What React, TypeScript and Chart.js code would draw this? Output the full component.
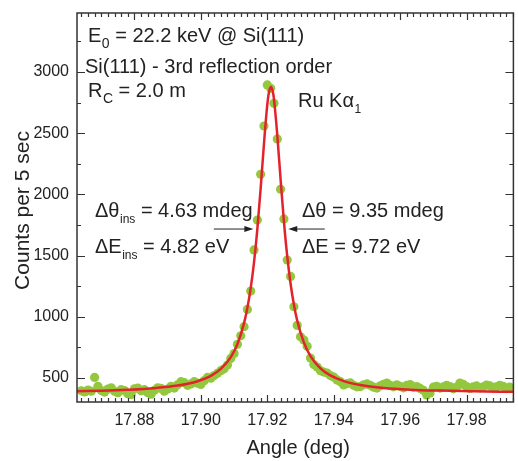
import React, { useEffect, useRef } from 'react';
import { Chart, registerables } from 'chart.js';

Chart.register(...registerables);

// Measured data (angle in deg, counts per 5 sec)
const angles = [
  17.864, 17.865, 17.866, 17.867, 17.868, 17.869, 17.870, 17.871, 17.872, 17.873,
  17.874, 17.875, 17.876, 17.877, 17.878, 17.879, 17.880, 17.881, 17.882, 17.883,
  17.884, 17.885, 17.886, 17.887, 17.888, 17.889, 17.890, 17.891, 17.892, 17.893,
  17.894, 17.895, 17.896, 17.897, 17.898, 17.899, 17.900, 17.901, 17.902, 17.903,
  17.904, 17.905, 17.906, 17.907, 17.908, 17.909, 17.910, 17.911, 17.912, 17.913,
  17.914, 17.915, 17.916, 17.917, 17.918, 17.919, 17.920, 17.921, 17.922, 17.923,
  17.924, 17.925, 17.926, 17.927, 17.928, 17.929, 17.930, 17.931, 17.932, 17.933,
  17.934, 17.935, 17.936, 17.937, 17.938, 17.939, 17.940, 17.941, 17.942, 17.943,
  17.944, 17.945, 17.946, 17.947, 17.948, 17.949, 17.950, 17.951, 17.952, 17.953,
  17.954, 17.955, 17.956, 17.957, 17.958, 17.959, 17.960, 17.961, 17.962, 17.963,
  17.964, 17.965, 17.966, 17.967, 17.968, 17.969, 17.970, 17.971, 17.972, 17.973,
  17.974, 17.975, 17.976, 17.977, 17.978, 17.979, 17.980, 17.981, 17.982, 17.983,
  17.984, 17.985, 17.986, 17.987, 17.988, 17.989, 17.990, 17.991, 17.992, 17.993,
];
const counts = [
  395, 386, 402, 392, 505, 432, 398, 385, 410, 420,
  392, 380, 405, 398, 372, 365, 412, 418, 395, 405,
  380, 368, 400, 420, 415, 392, 410, 432, 418, 445,
  470, 462, 440, 452, 470, 458, 448, 478, 505, 498,
  520, 538, 560, 575, 606, 660, 700, 775, 845, 919,
  1060, 1210, 1546, 1790, 2164, 2559, 2894, 2867, 2744, 2453,
  2042, 1800, 1464, 1330, 1082, 930, 837, 810, 760, 663,
  610, 590, 560, 549, 541, 520, 508, 484, 470, 443,
  455, 460, 440, 428, 430, 445, 452, 440, 425, 418,
  436, 448, 459, 440, 428, 445, 432, 420, 440, 447,
  425, 430, 415, 400, 362, 378, 425, 432, 418, 427,
  440, 430, 412, 425, 459, 448, 430, 415, 427, 435,
  420, 428, 443, 436, 420, 427, 440, 432, 418, 425,
];

// Fitted curve
const fitAngles = [
  17.8627, 17.870, 17.878, 17.886, 17.893, 17.899, 17.903, 17.906, 17.909, 17.911,
  17.913, 17.914, 17.915, 17.916, 17.917, 17.918, 17.919, 17.920, 17.9205, 17.9211,
  17.9217, 17.922, 17.923, 17.924, 17.925, 17.926, 17.927, 17.928, 17.929, 17.931,
  17.933, 17.936, 17.939, 17.943, 17.948, 17.955, 17.963, 17.972, 17.982, 17.9941,
];
const fitCounts = [
  392, 396, 404, 417, 438, 474, 518, 574, 670, 777,
  948, 1073, 1234, 1445, 1717, 2050, 2415, 2733, 2834, 2880,
  2834, 2780, 2487, 2123, 1780, 1495, 1272, 1101, 970, 791,
  679, 579, 521, 475, 443, 419, 405, 397, 391, 387,
];

const xTickValues = [17.88, 17.9, 17.92, 17.94, 17.96, 17.98];
const xTickLabels = ['17.88', '17.90', '17.92', '17.94', '17.96', '17.98'];
const yTickValues = [500, 1000, 1500, 2000, 2500, 3000];
const yTickLabels = ['500', '1000', '1500', '2000', '2500', '3000'];
const xMinorPerDeg = 500; // minor tick every 0.002 deg
const xMajorEvery = 10;
const yMinorStep = 250;

const X_MIN = 17.8627;
const X_MAX = 17.9941;
const Y_MIN = 304;
const Y_MAX = 3482;

const GREEN = '#93c83e';
const RED = '#e3222b';
const INK = '#222222';
const FONT = "'Liberation Sans', Arial, Helvetica, sans-serif";

type Part = { t: string; sub?: number };

function drawRich(ctx: CanvasRenderingContext2D, x: number, y: number, parts: Part[], size: number) {
  let cx = x;
  for (const p of parts) {
    if (p.sub) {
      ctx.font = `${Math.round(size * p.sub)}px ${FONT}`;
      ctx.fillText(p.t, cx + 0.5, y + size * 0.28);
      cx += ctx.measureText(p.t).width + 0.5;
    } else {
      ctx.font = `${size}px ${FONT}`;
      ctx.fillText(p.t, cx, y);
      cx += ctx.measureText(p.t).width;
    }
  }
}

function arrow(ctx: CanvasRenderingContext2D, x1: number, y: number, x2: number) {
  const dir = Math.sign(x2 - x1);
  ctx.beginPath();
  ctx.moveTo(x1, y);
  ctx.lineTo(x2 - dir * 6, y);
  ctx.lineWidth = 1;
  ctx.strokeStyle = INK;
  ctx.stroke();
  ctx.beginPath();
  ctx.moveTo(x2, y);
  ctx.lineTo(x2 - dir * 9, y - 3);
  ctx.lineTo(x2 - dir * 9, y + 3);
  ctx.closePath();
  ctx.fillStyle = INK;
  ctx.fill();
}

const framePlugin = {
  id: 'originFrame',
  afterDatasetsDraw(chart: any) {
    const { ctx, chartArea: a, scales } = chart;
    const xs = scales.x;
    const ys = scales.y;
    ctx.save();

    // frame
    ctx.strokeStyle = '#333333';
    ctx.lineWidth = 1.5;
    ctx.strokeRect(a.left, a.top, a.right - a.left, a.bottom - a.top);

    // x ticks (bottom & top, inward)
    ctx.lineWidth = 1.2;
    const kStart = Math.ceil(X_MIN * xMinorPerDeg - 1e-6);
    const kEnd = Math.floor(X_MAX * xMinorPerDeg + 1e-6);
    for (let k = kStart; k <= kEnd; k++) {
      const px = Math.round(xs.getPixelForValue(k / xMinorPerDeg)) + 0.5;
      const len = k % xMajorEvery === 0 ? 7 : 4;
      ctx.beginPath();
      ctx.moveTo(px, a.bottom);
      ctx.lineTo(px, a.bottom - len);
      ctx.moveTo(px, a.top);
      ctx.lineTo(px, a.top + len);
      ctx.stroke();
    }
    // y ticks (left & right, inward)
    for (let k = Math.ceil(Y_MIN / yMinorStep); k * yMinorStep <= Y_MAX; k++) {
      const v = k * yMinorStep;
      const py = Math.round(ys.getPixelForValue(v)) + 0.5;
      const len = v % 500 === 0 ? 8 : 4;
      ctx.beginPath();
      ctx.moveTo(a.left, py);
      ctx.lineTo(a.left + len, py);
      ctx.moveTo(a.right, py);
      ctx.lineTo(a.right - len, py);
      ctx.stroke();
    }

    // tick labels
    ctx.fillStyle = INK;
    ctx.font = `16px ${FONT}`;
    ctx.textAlign = 'center';
    ctx.textBaseline = 'alphabetic';
    xTickValues.forEach((v, i) => {
      ctx.fillText(xTickLabels[i], xs.getPixelForValue(v), a.bottom + 23);
    });
    ctx.textAlign = 'right';
    ctx.textBaseline = 'middle';
    yTickValues.forEach((v, i) => {
      ctx.fillText(yTickLabels[i], a.left - 8, ys.getPixelForValue(v));
    });

    // axis titles
    ctx.font = `20px ${FONT}`;
    ctx.textAlign = 'center';
    ctx.textBaseline = 'alphabetic';
    ctx.fillText('Angle (deg)', (a.left + a.right) / 2 + 3, 454);
    ctx.save();
    ctx.translate(29, (a.top + a.bottom) / 2 + 3);
    ctx.rotate(-Math.PI / 2);
    ctx.font = `21px ${FONT}`;
    ctx.fillText('Counts per 5 sec', 0, 0);
    ctx.restore();

    // annotations
    ctx.textAlign = 'left';
    ctx.textBaseline = 'alphabetic';
    drawRich(ctx, 88, 42, [{ t: 'E' }, { t: '0', sub: 0.68 }, { t: ' = 22.2 keV @ Si(111)' }], 20);
    drawRich(ctx, 85, 73, [{ t: 'Si(111) - 3rd reflection order' }], 20);
    drawRich(ctx, 88, 97, [{ t: 'R' }, { t: 'C', sub: 0.68 }, { t: ' = 2.0 m' }], 20);
    drawRich(ctx, 298, 107, [{ t: 'Ru K\u03b1' }, { t: '1', sub: 0.62 }], 20);
    drawRich(ctx, 95, 217, [{ t: '\u0394\u03b8' }, { t: 'ins', sub: 0.6 }, { t: ' = 4.63 mdeg' }], 20);
    drawRich(ctx, 95, 253, [{ t: '\u0394E' }, { t: 'ins', sub: 0.6 }, { t: ' = 4.82 eV' }], 20);
    drawRich(ctx, 302, 217, [{ t: '\u0394\u03b8 = 9.35 mdeg' }], 20);
    drawRich(ctx, 302, 253, [{ t: '\u0394E = 9.72 eV' }], 20);

    const ay = ys.getPixelForValue(1717);
    arrow(ctx, xs.getPixelForValue(17.9039), ay, xs.getPixelForValue(17.9158));
    arrow(ctx, xs.getPixelForValue(17.9373), ay, xs.getPixelForValue(17.9263));

    ctx.restore();
  },
};

export default function App() {
  const ref = useRef<HTMLCanvasElement | null>(null);
  useEffect(() => {
    if (!ref.current) return;
    const chart = new Chart(ref.current, {
      type: 'scatter',
      data: {
        datasets: [
          {
            label: 'Fit',
            data: fitAngles.map((x, i) => ({ x, y: fitCounts[i] })),
            showLine: true,
            borderColor: RED,
            borderWidth: 2.5,
            pointRadius: 0,
            cubicInterpolationMode: 'monotone',
            order: 1,
          } as any,
          {
            label: 'Ru Kα1',
            data: angles.map((x, i) => ({ x, y: counts[i] })),
            pointRadius: 4.6,
            backgroundColor: GREEN,
            borderWidth: 0,
            order: 2,
          },
        ],
      },
      options: {
        animation: false,
        responsive: false,
        devicePixelRatio: 1,
        events: [],
        layout: { padding: { left: 77, top: 13, right: 1, bottom: 59 } },
        scales: {
          x: { type: 'linear', min: X_MIN, max: X_MAX, display: false },
          y: { type: 'linear', min: Y_MIN, max: Y_MAX, display: false },
        },
        plugins: { legend: { display: false }, tooltip: { enabled: false } },
      },
      plugins: [framePlugin],
    });
    return () => chart.destroy();
  }, []);
  return (
    <div style={{ position: 'fixed', left: 0, top: 0, width: 518, height: 461, background: '#fff' }}>
      <canvas ref={ref} width={518} height={461} />
    </div>
  );
}
